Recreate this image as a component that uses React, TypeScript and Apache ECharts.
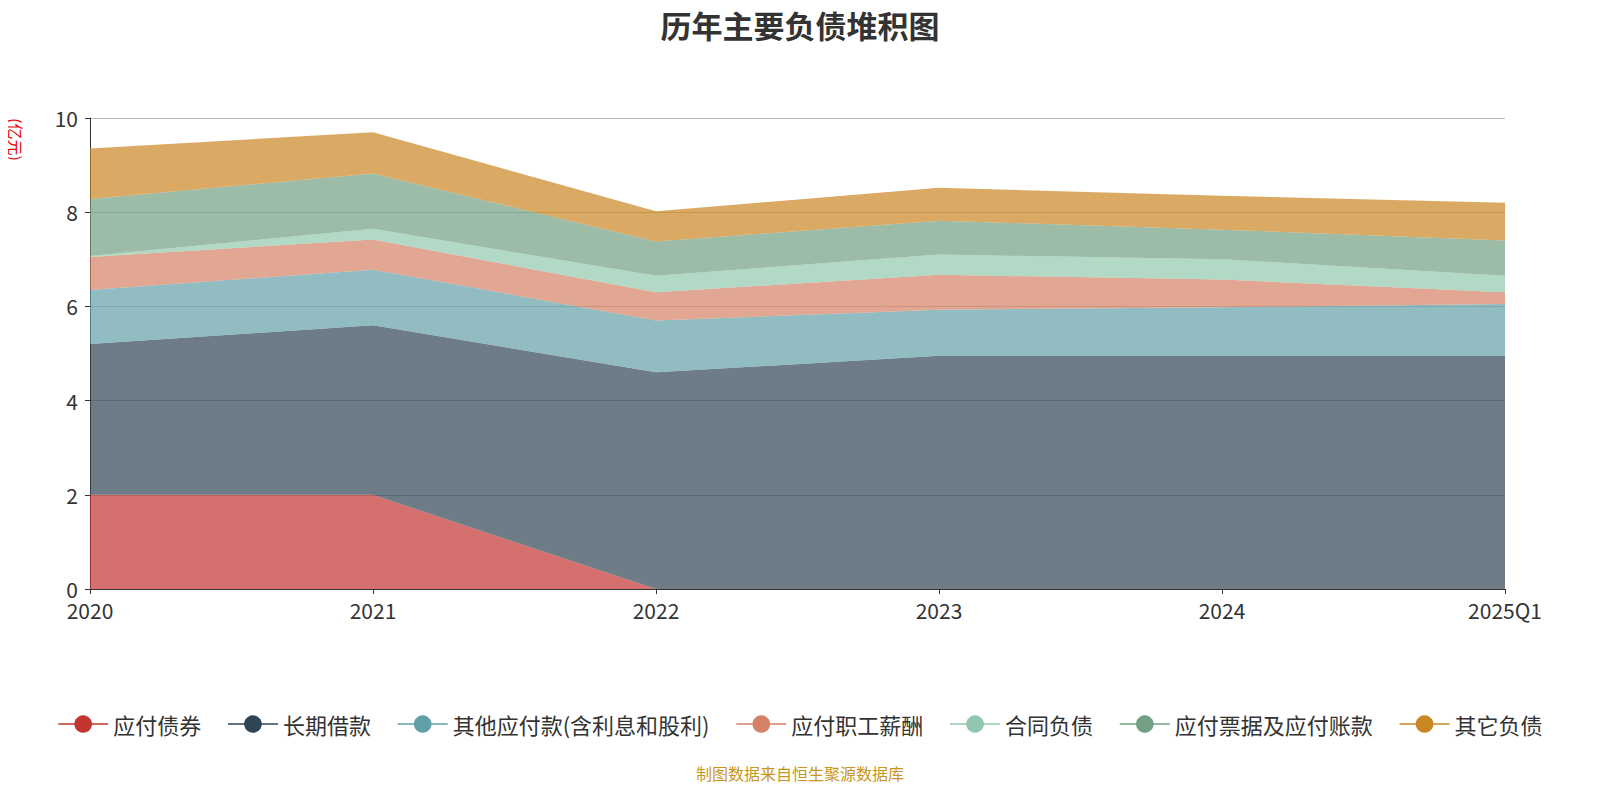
import React, { useEffect, useRef } from "react";
import * as echarts from "echarts";

const categories = ["2020", "2021", "2022", "2023", "2024", "2025Q1"];
const names = ["应付债券", "长期借款", "其他应付款(含利息和股利)", "应付职工薪酬", "合同负债", "应付票据及应付账款", "其它负债"];
const bonds = [2, 2, 0, 0, 0, 0];
const longLoans = [3.2, 3.6, 4.6, 4.95, 4.95, 4.95];
const otherPayables = [1.15, 1.18, 1.1, 0.98, 1.03, 1.1];
const salaries = [0.7, 0.64, 0.6, 0.74, 0.59, 0.25];
const contracts = [0.02, 0.23, 0.35, 0.43, 0.43, 0.35];
const notesPayable = [1.21, 1.17, 0.73, 0.72, 0.63, 0.75];
const otherLiab = [1.07, 0.88, 0.64, 0.7, 0.72, 0.8];
const colors = ["#c23531", "#2f4554", "#61a0a8", "#d48265", "#91c7ae", "#749f83", "#ca8622"];

export default function App() {
  const ref = useRef<HTMLDivElement>(null);
  useEffect(() => {
    const chart = echarts.init(ref.current!, null, { renderer: "svg" });
    const data = [bonds, longLoans, otherPayables, salaries, contracts, notesPayable, otherLiab];
    chart.setOption({
      animation: false,
      color: colors,
      textStyle: { fontFamily: "Noto Sans CJK SC" },
      title: { text: "历年主要负债堆积图", left: "center", top: -4, textStyle: { fontSize: 31, fontWeight: "bold", color: "#333" } },
      grid: { left: 82, right: 87, top: 110, bottom: 203 },
      legend: {
        bottom: 52, left: "center", itemWidth: 50, itemHeight: 22, itemGap: 26,
        textStyle: { fontSize: 22, color: "#333" }, data: names,
        lineStyle: { width: 1.5, opacity: 1 },
      },
      graphic: [
        { type: "text", x: 16, y: 110, rotation: -Math.PI / 2, style: { text: "(亿元)", fill: "#e00", fontSize: 16, fontFamily: "Noto Sans CJK SC" } },
        { type: "text", left: "center", top: 757, style: { text: "制图数据来自恒生聚源数据库", fill: "#c8961e", fontSize: 16, fontFamily: "Noto Sans CJK SC" } },
      ],
      xAxis: {
        type: "category", boundaryGap: false, data: categories,
        axisLine: { lineStyle: { color: "#333" } },
        axisTick: { lineStyle: { color: "#333" } },
        axisLabel: { fontSize: 21, color: "#333", margin: 10 },
      },
      yAxis: {
        type: "value", min: 0, max: 10, interval: 2,
        axisLine: { show: true, lineStyle: { color: "#333" } },
        axisTick: { show: true },
        axisLabel: { fontSize: 21, color: "#333", margin: 12 },
        splitLine: { lineStyle: { color: "#bbb" } },
      },
      series: names.map((n, i) => ({
        name: n, type: "line", stack: "total", data: data[i],
        symbol: "circle", symbolSize: 0, showSymbol: false,
        lineStyle: { width: 0 },
        areaStyle: { opacity: 0.7 },
      })),
    });
    return () => chart.dispose();
  }, []);
  return <div ref={ref} style={{ width: 1584, height: 784 }} />;
}
